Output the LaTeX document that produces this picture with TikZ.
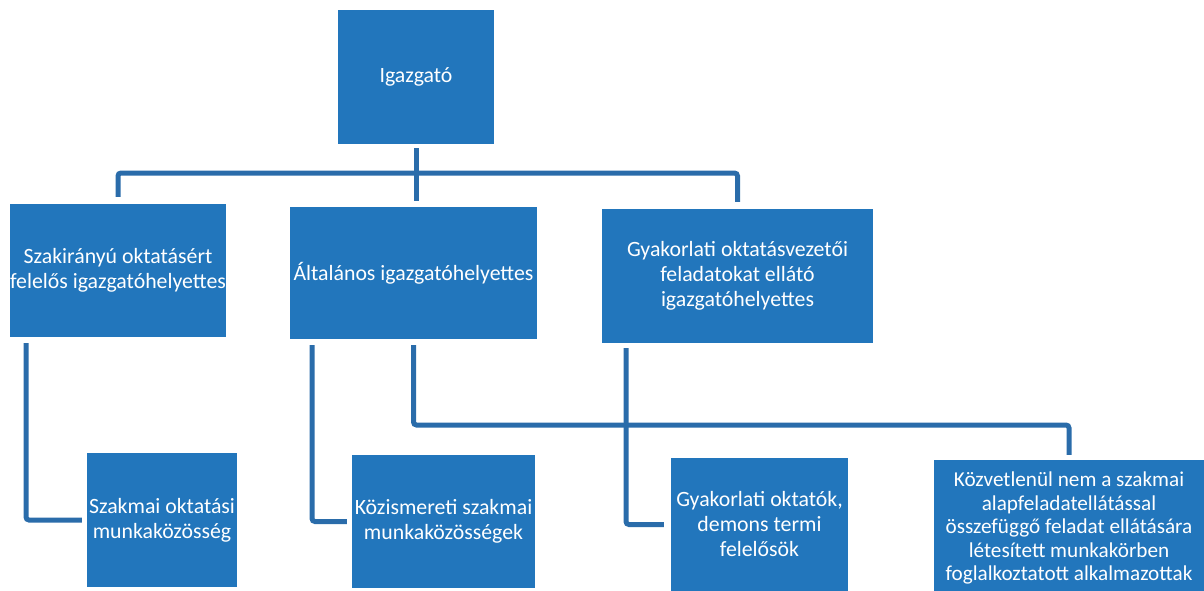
\documentclass[tikz,border=0pt]{standalone}
\usepackage{fontspec}
\setmainfont{Carlito}
\definecolor{boxblue}{RGB}{34,118,188}
\definecolor{lineblue}{RGB}{42,108,170}
\begin{document}
\begin{tikzpicture}[x=1pt,y=-1pt,
  orgbox/.style={rectangle, fill=boxblue, text=white, inner sep=0pt, align=center,
    font=\fontsize{21.8}{25}\selectfont},
  smallbox/.style={orgbox, font=\fontsize{21.2}{23.5}\selectfont},
  conn/.style={draw=lineblue, line width=5pt, rounded corners=3pt}]
\useasboundingbox (0,0) rectangle (1204,591);
\node[orgbox, minimum width=156pt, minimum height=134pt] (top) at (416,77) {Igazgató};
\node[orgbox, minimum width=216pt, minimum height=133pt] (b1) at (118,270.5) {Szakirányú oktatásért\\felelős igazgatóhelyettes};
\node[orgbox, minimum width=247pt, minimum height=132pt] (b2) at (413.5,273) {Általános igazgatóhelyettes};
\node[orgbox, minimum width=271pt, minimum height=134pt] (b3) at (737.5,276) {Gyakorlati oktatásvezetői\\feladatokat ellátó\\igazgatóhelyettes};
\node[orgbox, minimum width=150pt, minimum height=134pt] (b4) at (162,520) {Szakmai oktatási\\munkaközösség};
\node[orgbox, minimum width=183pt, minimum height=133pt] (b5) at (443.5,521.5) {Közismereti szakmai\\munkaközösségek};
\node[orgbox, minimum width=177pt, minimum height=133pt] (b6) at (759.5,524.5) {Gyakorlati oktatók,\\demons termi\\felelősök};
\node[smallbox, minimum width=270pt, minimum height=136pt] (b7) at (1069,528) {Közvetlenül nem a szakmai\\alapfeladatellátással\\összefüggő feladat ellátására\\létesített munkakörben\\foglalkoztatott alkalmazottak};
\coordinate (hub) at (416,173);
\coordinate (bus) at (700,425);
\draw[conn, shorten <=4pt, shorten >=6pt] (top.south) -- (top.south |- b2.north);
\draw[conn, shorten <=7pt, shorten >=7pt] (b1.north) |- (hub) -| (b3.north);
\draw[conn, shorten <=6pt, shorten >=5pt] ([xshift=-92pt]b1.south) |- (b4.west);
\draw[conn, shorten <=6pt, shorten >=5pt] ([xshift=-101.5pt]b2.south) |- (b5.west);
\draw[conn, shorten <=6pt, shorten >=5pt] (b2.south) |- (bus) -| (b7.north);
\draw[conn, shorten <=5pt, shorten >=7pt] ([xshift=-111.5pt]b3.south) |- (b6.west);
\end{tikzpicture}
\end{document}
